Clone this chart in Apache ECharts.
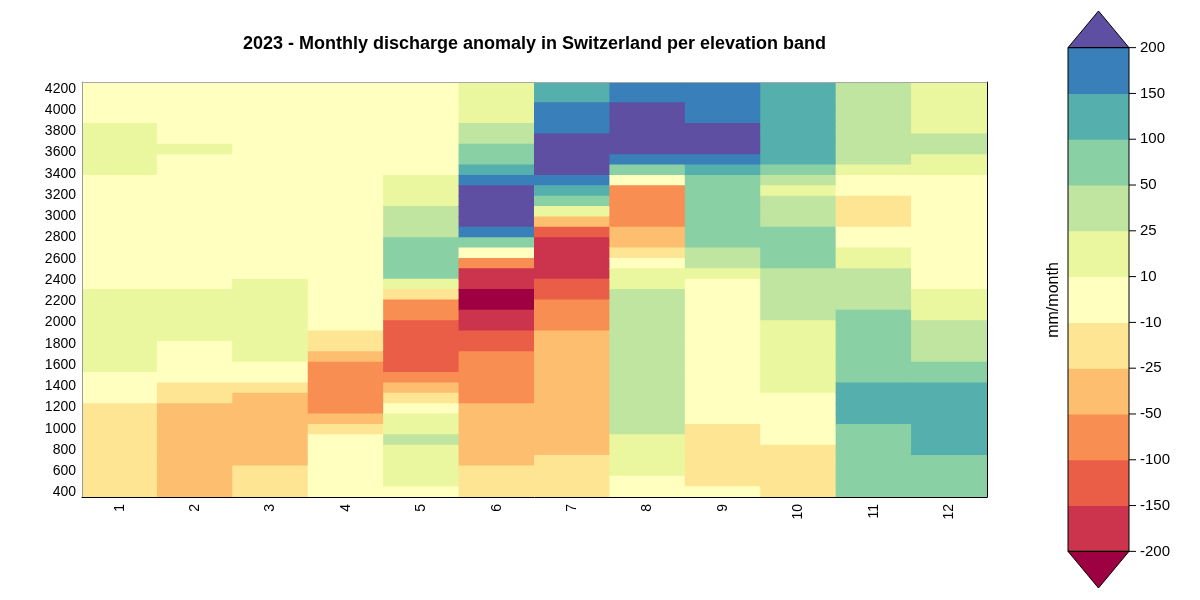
<!DOCTYPE html>
<html><head><meta charset="utf-8">
<script src="https://cdn.jsdelivr.net/npm/echarts@6/dist/echarts.min.js"></script>
<style>html,body{margin:0;padding:0;background:#fff}#c{width:1200px;height:600px}</style>
</head><body><div id="c"></div>
<script>
// ---- categories / labels ----
const months = ['1','2','3','4','5','6','7','8','9','10','11','12'];
// elevation band centres (m), bottom -> top
const elevations = [406,504,601,699,796,894,992,1089,1187,1285,1382,1480,1578,1675,1773,1871,1968,2066,2164,2261,
  2359,2457,2554,2652,2749,2847,2945,3042,3140,3238,3335,3433,3531,3628,3726,3824,3921,4019,4117,4214];
const yTicks = [400,600,800,1000,1200,1400,1600,1800,2000,2200,2400,2600,2800,3000,3200,3400,3600,3800,4000,4200];
// colour classes (mm/month)
const breaks = [-200,-150,-100,-50,-25,-10,10,25,50,100,150,200];
const colors = ['#9E0142','#CC344D','#EA5D47','#F98E52','#FDBF6F','#FEE594','#FFFFBF','#EAF79E','#BFE5A0','#89D0A5','#55AFAD','#397FB9','#5E4FA2'];

// ---- anomaly values per month, listed from the highest band (top) to the lowest (bottom) ----
const m1 = [4,5,6,8, 12,14,15,14,12, 8,6,5,4,3,3,4,5,6,7,9, 12,13,14,15,15,14,13,11, 8,5,2, -12,-14,-15,-16,-17,-18,-18,-19,-20];
const m2 = [5,6,6,7,8,9, 11, 8,7,6,5,4,4,3,3,4,5,6,7,8, 11,12,13,12,11, 8,5,2,-3, -13,-20, -28,-32,-35,-38,-40,-42,-44,-45,-46];
const m3 = [3,3,4,4,5,5,6,6,7,7,8,8,8,9,9,9,9,9,9, 11,12,13,14,14,13,12,11, 6,-2, -15, -28,-32,-36,-40,-42,-40,-35, -22,-20,-18];
const m4 = [2,2,2,2,2,2,2,2,2,2,2,2,1,1,1,1,0,0,0,-1,-2,-3,-4,-6, -14,-20, -30, -55,-65,-75,-80,-70, -35, -15, -5,-3,-2,0,2,4];
const m5 = [3,3,4,4,5,5,6,7,8, 12,15,20, 28,35,45, 55,65,70,60, 15, -20, -60,-85, -110,-130,-140,-130,-115, -80, -40, -18, -5, 12,15, 28, 20,18,15,12, 8];
const m6 = [12,14,18,22, 30,45, 60,85, 120, 170, 220,250,240,210, 160, 60, 0, -70, -160,-185, -215,-210, -180,-160, -130,-110, -95,-85,-75,-65,-55, -48,-45,-42,-38,-32,-28, -22,-18,-15];
const m7 = [110,130, 160,175,190, 210,230,240,220, 170, 115, 70, 15, -40, -120, -160,-175,-185,-170, -140,-110, -90,-75,-60, -48,-46,-45,-44,-42,-40,-38,-36,-34,-32,-30,-27, -23,-20,-18,-15];
const m8 = [180,190, 220,240,250,240,215, 170, 70, 0, -60,-75,-80,-65, -45,-30, -15, 5, 15,20, 30,35,40,42,45,45,45,42,40,38,35,32,30,28, 22,18,15,12, 6,3];
const m9 = [160,170,180,190, 210,220,205, 160, 110, 55,60,65,70,70,65,55, 40,30, 15, 8,6,5,4,3,2,1,0,-1,-2,-3,-4,-5,-7, -12,-15,-18,-20,-18,-14, -8];
const m10 = [120,125,130,135,130,125,115,105, 80, 40, 20, 30,35,40, 55,60,58,52, 45,40,38,35,30, 24,22,20,18,16,14,12, 8,5,2,0,-5, -12,-15,-18,-20,-22];
const m11 = [30,32,35,38,40,42,40,35, 20, 5,0, -12,-15,-14, -5,5, 12,18, 28,32,38,45, 55,60,65,70,75,80,90, 105,115,120,110, 95,90,85,80,75,70,65];
const m12 = [12,14,16,18,20, 28,30, 22,15, 8,6,5,4,3,2,2,3,4,6,8, 12,16,22, 28,32,38,45, 60,85, 105,115,125,130,125,115,105, 95,85,75,70];
const monthly = [m1,m2,m3,m4,m5,m6,m7,m8,m9,m10,m11,m12];

// ---- build heatmap data ----
const heat = [];
monthly.forEach((col, j) => {
  col.forEach((v, r) => heat.push([j, col.length - 1 - r, v]));
});
const pieces = [{lt: breaks[0], color: colors[0]}];
for (let i = 0; i < breaks.length - 1; i++) pieces.push({gte: breaks[i], lt: breaks[i+1], color: colors[i+1]});
pieces.push({gte: breaks[breaks.length-1], color: colors[colors.length-1]});

// colour bar items in break-index space: [lo, hi, colourIndex, kind]
const nB = breaks.length;
const bar = [];
for (let i = 0; i < nB - 1; i++) bar.push([i, i + 1, i + 1, 0]);
bar.push([nB - 1, nB - 0.2, colors.length - 1, 1]);
bar.push([-0.8, 0, 0, 2]);
bar.push([0, nB - 1, -1, 3]);
breaks.forEach((b, i) => bar.push([i, i, -1, 4]));
const barTicks = breaks.map((b, i) => i);

const FONT = 'Liberation Sans, Arial, sans-serif';
const chart = echarts.init(document.getElementById('c'), null, {renderer: 'canvas'});
chart.setOption({
  animation: false,
  backgroundColor: '#fff',
  textStyle: {fontFamily: FONT, color: '#000'},
  graphic: [
    {type: 'text', x: 534.5, y: 44, style: {text: '2023 - Monthly discharge anomaly in Switzerland per elevation band',
      font: 'bold 18px ' + FONT, fill: '#000', textAlign: 'center', textVerticalAlign: 'middle'}},
    {type: 'text', x: 1054, y: 300, rotation: Math.PI / 2, style: {text: 'mm/month',
      font: '16px ' + FONT, fill: '#000', textAlign: 'center', textVerticalAlign: 'middle'}}
  ],
  grid: [
    {left: 82, top: 82, width: 905, height: 415},
    {left: 1068, top: 11, width: 61, height: 577}
  ],
  visualMap: {type: 'piecewise', show: false, dimension: 2, seriesIndex: 0, pieces: pieces},
  xAxis: [
    {type: 'category', gridIndex: 0, data: months, position: 'bottom', z: 10,
      axisLine: {lineStyle: {color: '#000', width: 1}}, axisTick: {show: false},
      axisLabel: {rotate: 90, fontSize: 14, color: '#000', margin: 7, fontFamily: FONT}, splitLine: {show: false}},
    {type: 'category', gridIndex: 0, data: months, position: 'top', z: 10,
      axisLine: {lineStyle: {color: '#a8a8a8', width: 1}}, axisTick: {show: false}, axisLabel: {show: false}},
    {type: 'value', gridIndex: 1, min: 0, max: 1, show: false}
  ],
  yAxis: [
    {type: 'category', gridIndex: 0, data: elevations, show: false},
    {type: 'value', gridIndex: 0, min: 357, max: 4263, position: 'left', z: 10,
      axisLine: {show: true, lineStyle: {color: '#999', width: 1}}, axisTick: {show: false, customValues: yTicks},
      axisLabel: {customValues: yTicks, fontSize: 14, color: '#000', margin: 6, fontFamily: FONT,
        formatter: v => String(v)}, splitLine: {show: false}},
    {type: 'category', gridIndex: 0, data: elevations, position: 'right', z: 10,
      axisLine: {show: true, lineStyle: {color: '#000', width: 1}}, axisTick: {show: false}, axisLabel: {show: false}},
    {type: 'value', gridIndex: 1, min: -0.8, max: nB - 0.2, position: 'right',
      axisLine: {show: false}, splitLine: {show: false}, axisTick: {show: false},
      axisLabel: {customValues: barTicks, fontSize: 15, color: '#000', margin: 11, fontFamily: FONT,
        formatter: v => String(breaks[Math.round(v)])}}
  ],
  series: [
    {type: 'custom', xAxisIndex: 0, yAxisIndex: 0, data: heat, silent: true, clip: true,
      renderItem: function (params, api) {
        const c = api.coord([api.value(0), api.value(1)]);
        const s = api.size([1, 1]);
        const col = api.visual('color');
        return {type: 'rect', shape: {x: c[0] - s[0] / 2 - 0.5, y: c[1] - s[1] / 2 - 0.5, width: s[0] + 1, height: s[1] + 1},
          style: {fill: col, opacity: 1}};
      }},
    {type: 'custom', xAxisIndex: 2, yAxisIndex: 3, data: bar, silent: true,
      renderItem: function (params, api) {
        const lo = api.value(0), hi = api.value(1), ci = api.value(2), kind = api.value(3);
        if (kind === 0) {
          const a = api.coord([0, hi]), b = api.coord([1, lo]);
          return {type: 'rect', shape: {x: a[0], y: a[1] - 0.5, width: b[0] - a[0], height: b[1] - a[1] + 1},
            style: {fill: colors[ci]}};
        }
        if (kind === 1) {
          return {type: 'polygon', shape: {points: [api.coord([0, lo]), api.coord([0.5, hi]), api.coord([1, lo])]},
            style: {fill: colors[ci], stroke: '#000', lineWidth: 1}};
        }
        if (kind === 2) {
          return {type: 'polygon', shape: {points: [api.coord([0, hi]), api.coord([0.5, lo]), api.coord([1, hi])]},
            style: {fill: colors[ci], stroke: '#000', lineWidth: 1}};
        }
        if (kind === 4) {
          const p = api.coord([1, lo]);
          return {type: 'line', z2: 10, shape: {x1: p[0], y1: p[1], x2: p[0] + 7, y2: p[1]},
            style: {stroke: '#000', lineWidth: 1}};
        }
        const a = api.coord([0, hi]), b = api.coord([1, lo]);
        return {type: 'rect', z2: 10, shape: {x: a[0], y: a[1], width: b[0] - a[0], height: b[1] - a[1]},
          style: {fill: 'none', stroke: '#000', lineWidth: 1}};
      }}
  ]
});
</script></body></html>
